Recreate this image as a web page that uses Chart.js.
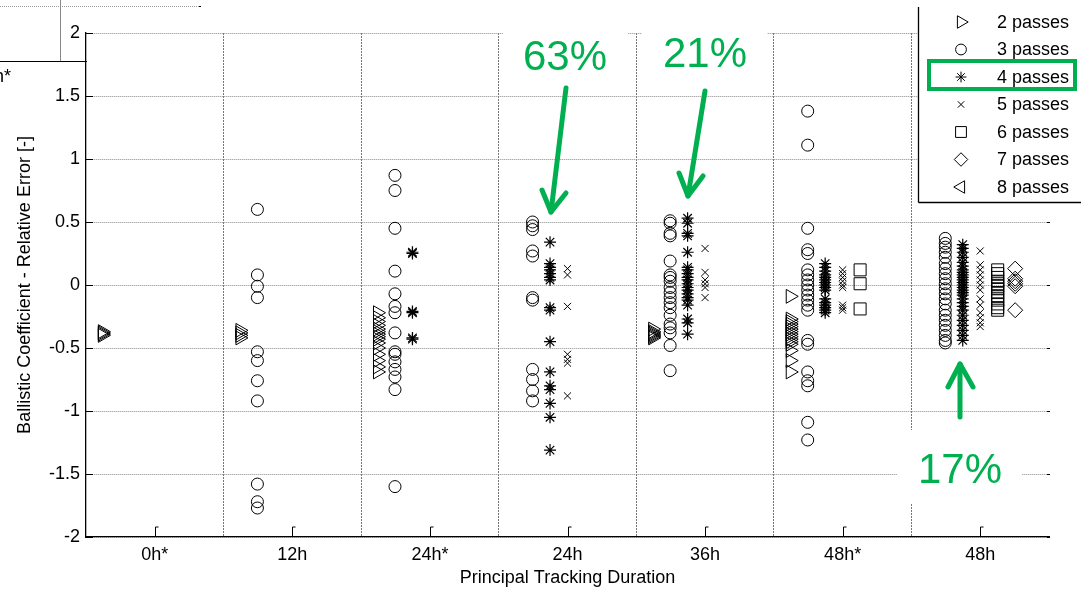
<!DOCTYPE html>
<html>
<head>
<meta charset="utf-8">
<script src="https://cdn.jsdelivr.net/npm/chart.js"></script>
<style>
  body { margin: 0; background: #fff; }
  #wrap { width: 1081px; height: 590px; }
</style>
</head>
<body>
<div id="wrap"><canvas id="bcChart" width="1081" height="590"></canvas></div>
<script>
// categories on the x axis
var categories = ['0h*', '12h', '24h*', '24h', '36h', '48h*', '48h'];
var passLabels = ['2 passes', '3 passes', '4 passes', '5 passes', '6 passes', '7 passes', '8 passes'];

// relative error per category (one inner list per category, same order as above)
var twoPasses = [
    [-0.37, -0.38, -0.39, -0.40],
    [-0.36, -0.38, -0.40, -0.42],
    [-0.22, -0.26, -0.29, -0.32, -0.35, -0.37, -0.39, -0.41, -0.43, -0.46, -0.50, -0.55, -0.60, -0.65, -0.69],
    [],
    [-0.35, -0.37, -0.38, -0.39, -0.40, -0.41, -0.42],
    [-0.09, -0.27, -0.29, -0.31, -0.33, -0.35, -0.37, -0.39, -0.41, -0.43, -0.45, -0.47, -0.52, -0.60, -0.69],
    []
];
var threePasses = [
    [],
    [0.60, 0.08, -0.01, -0.10, -0.53, -0.60, -0.76, -0.92, -1.58, -1.72, -1.77],
    [0.87, 0.75, 0.45, 0.11, -0.07, -0.17, -0.22, -0.38, -0.53, -0.55, -0.61, -0.67, -0.73, -0.83, -1.60],
    [0.50, 0.47, 0.44, 0.27, 0.23, -0.10, -0.12, -0.67, -0.75, -0.84, -0.92],
    [0.51, 0.49, 0.41, 0.39, 0.19, 0.08, 0.06, 0.03, -0.02, -0.06, -0.10, -0.14, -0.18, -0.24, -0.31, -0.34, -0.38, -0.48, -0.68],
    [1.38, 1.11, 0.45, 0.28, 0.25, 0.12, 0.08, 0.04, 0.00, -0.04, -0.08, -0.12, -0.16, -0.20, -0.44, -0.47, -0.69, -0.76, -0.80, -1.09, -1.23],
    [0.37, 0.33, 0.30, 0.26, 0.22, 0.17, 0.13, 0.09, 0.05, 0.01, -0.03, -0.07, -0.11, -0.15, -0.20, -0.24, -0.28, -0.32, -0.36, -0.40, -0.44, -0.46]
];
var fourPasses = [
    [],
    [],
    [0.26, 0.25, -0.21, -0.22, -0.42, -0.43],
    [0.34, 0.17, 0.14, 0.12, 0.09, 0.06, 0.04, -0.18, -0.20, -0.45, -0.69, -0.80, -0.83, -0.94, -1.05, -1.31],
    [0.53, 0.49, 0.41, 0.39, 0.26, 0.14, 0.12, 0.09, 0.06, 0.04, 0.01, -0.02, -0.04, -0.07, -0.10, -0.12, -0.16, -0.27, -0.30, -0.39],
    [0.17, 0.14, 0.11, 0.08, 0.06, 0.04, 0.02, 0.00, -0.02, -0.04, -0.11, -0.14, -0.16, -0.18, -0.20, -0.22],
    [0.32, 0.29, 0.26, 0.22, 0.18, 0.15, 0.12, 0.10, 0.08, 0.06, 0.04, 0.02, 0.00, -0.02, -0.04, -0.06, -0.08, -0.11, -0.14, -0.17, -0.20, -0.24, -0.28, -0.32, -0.36, -0.40, -0.44]
];
var fivePasses = [
    [],
    [],
    [],
    [0.13, 0.08, -0.17, -0.55, -0.59, -0.62, -0.88],
    [0.29, 0.10, 0.04, 0.01, -0.02, -0.10],
    [0.12, 0.09, 0.06, 0.03, 0.00, -0.02, -0.16, -0.18, -0.20],
    [0.27, 0.16, 0.12, 0.08, 0.04, 0.00, -0.04, -0.11, -0.16, -0.22, -0.26, -0.30, -0.33]
];
var sixPasses = [
    [], [], [], [], [],
    [0.12, 0.01, -0.19],
    [0.12, 0.09, 0.06, 0.03, 0.01, -0.01, -0.03, -0.06, -0.09, -0.12, -0.15, -0.18, -0.20]
];
var sevenPasses = [
    [], [], [], [], [], [],
    [0.13, 0.05, 0.03, 0.01, -0.01, -0.20]
];
var eightPasses = [[], [], [], [], [], [], []];

var allPasses = [twoPasses, threePasses, fourPasses, fivePasses, sixPasses, sevenPasses, eightPasses];

// marker look per pass count (matlab style)
var markers = [
    { style: 'triangle', rot: 90, r: 8 },
    { style: 'circle', rot: 0, r: 6 },
    { style: 'star', rot: 0, r: 6 },
    { style: 'crossRot', rot: 0, r: 5 },
    { style: 'rect', rot: 0, r: 8.5 },
    { style: 'rectRot', rot: 0, r: 7.5 },
    { style: 'triangle', rot: -90, r: 8 }
];

var green = '#00b050';

var datasets = allPasses.map(function (groups, i) {
    var pts = [];
    groups.forEach(function (vals, c) {
        vals.forEach(function (v) {
            // each pass count sits at its own slot inside the category
            pts.push({ x: c + 1 + (i - 3) * 0.127, y: v });
        });
    });
    return {
        label: passLabels[i],
        data: pts,
        showLine: false,
        pointStyle: markers[i].style,
        pointRotation: markers[i].rot,
        pointRadius: markers[i].r,
        pointBorderColor: '#000',
        pointBackgroundColor: 'rgba(0,0,0,0)',
        pointBorderWidth: i === 2 ? 1.2 : 1
    };
});

function line(ctx, x1, y1, x2, y2) {
    ctx.beginPath();
    ctx.moveTo(x1, y1);
    ctx.lineTo(x2, y2);
    ctx.stroke();
}

function arrow(ctx, sx, sy, tx, ty, w1x, w1y, w2x, w2y) {
    ctx.save();
    ctx.strokeStyle = green;
    ctx.lineWidth = 5;
    ctx.lineCap = 'round';
    ctx.lineJoin = 'round';
    line(ctx, sx, sy, tx, ty);
    ctx.beginPath();
    ctx.moveTo(w1x, w1y);
    ctx.lineTo(tx, ty);
    ctx.lineTo(w2x, w2y);
    ctx.stroke();
    ctx.restore();
}

var extras = {
    id: 'extras',
    beforeDatasetsDraw: function (chart) {
        var ctx = chart.ctx;
        // white boxes behind the percentage labels
        ctx.save();
        ctx.fillStyle = '#fff';
        ctx.fillRect(503, 26, 125, 56);
        ctx.fillRect(642, 26, 125, 56);
        ctx.fillRect(897, 430, 125, 73);
        ctx.restore();
    },
    afterDatasetsDraw: function (chart) {
        var ctx = chart.ctx;
        var area = chart.chartArea;
        var xs = chart.scales.x, ys = chart.scales.y;

        // inward tick marks
        ctx.save();
        ctx.strokeStyle = '#000';
        ctx.lineWidth = 1;
        ys.ticks.forEach(function (t) {
            var py = Math.round(ys.getPixelForValue(t.value)) + 0.5;
            line(ctx, area.left, py, area.left + 7, py);
            line(ctx, area.right - 2, py, area.right + 1, py);
        });
        categories.forEach(function (c, i) {
            var px = Math.round(xs.getPixelForValue(i + 1)) + 0.5;
            line(ctx, px, area.bottom, px, area.bottom - 10);
            line(ctx, px, area.bottom - 10, px + 3, area.bottom - 10);
        });
        ctx.restore();

        // legend box
        ctx.save();
        ctx.fillStyle = '#fff';
        ctx.fillRect(918, 0, 170, 202);
        ctx.strokeStyle = '#000';
        ctx.lineWidth = 1.3;
        line(ctx, 918.5, 7, 918.5, 202.5);
        line(ctx, 918.5, 202.5, 1081, 202.5);
        ctx.font = '18px "Liberation Sans", Arial, sans-serif';
        ctx.textBaseline = 'middle';
        ctx.textAlign = 'left';
        passLabels.forEach(function (lab, i) {
            var ly = 22 + i * 27.5;
            ctx.fillStyle = 'rgba(0,0,0,0)';
            ctx.strokeStyle = '#000';
            ctx.lineWidth = 1;
            if (Chart.helpers && Chart.helpers.drawPoint) {
                Chart.helpers.drawPoint(ctx, {
                    pointStyle: markers[i].style,
                    rotation: markers[i].rot,
                    radius: markers[i].r * 0.9,
                    borderWidth: 1
                }, 961, ly);
            }
            ctx.fillStyle = '#000';
            ctx.fillText(lab, 997, ly + 1);
        });
        ctx.strokeStyle = green;
        ctx.lineWidth = 4;
        ctx.strokeRect(929, 61, 146, 28);
        ctx.restore();

        // percentages and arrows
        ctx.save();
        ctx.fillStyle = green;
        ctx.font = '42px "Liberation Sans", Arial, sans-serif';
        ctx.textAlign = 'center';
        ctx.textBaseline = 'alphabetic';
        ctx.fillText('63%', 565, 70);
        ctx.fillText('21%', 705, 67);
        ctx.fillText('17%', 960, 483);
        ctx.restore();
        arrow(ctx, 566, 88, 551, 212, 542, 190, 566, 193);
        arrow(ctx, 705, 91, 688, 196, 679, 173, 703, 176);
        arrow(ctx, 960, 417, 960, 364, 948, 387, 973, 387);

        // bits of the neighbouring figure at the top left
        ctx.save();
        ctx.strokeStyle = '#999';
        ctx.lineWidth = 1;
        ctx.setLineDash([1, 1]);
        line(ctx, 0, 6.5, 199, 6.5);
        ctx.setLineDash([]);
        ctx.strokeStyle = '#000';
        line(ctx, 199, 6.5, 201, 6.5);
        ctx.strokeStyle = '#888';
        line(ctx, 60.5, 0, 60.5, 61);
        ctx.strokeStyle = '#000';
        line(ctx, 0, 61.5, 87, 61.5);
        ctx.fillStyle = '#000';
        ctx.font = '18px "Liberation Sans", Arial, sans-serif';
        ctx.textAlign = 'right';
        ctx.textBaseline = 'alphabetic';
        ctx.fillText('0h*', 11, 82);
        ctx.restore();
    }
};

Chart.defaults.font.family = '"Liberation Sans", Arial, sans-serif';
Chart.defaults.font.size = 18;
Chart.defaults.color = '#000';

var bc = document.getElementById('bcChart').getContext('2d');
var bcChart = new Chart(bc, {
    type: 'scatter',
    data: { datasets: datasets },
    options: {
        responsive: false,
        animation: false,
        events: [],
        layout: { padding: { left: 0, right: 32, top: 33, bottom: 0 } },
        plugins: {
            legend: { display: false },
            tooltip: { enabled: false }
        },
        scales: {
            x: {
                type: 'linear',
                min: 0.5,
                max: 7.5,
                afterBuildTicks: function (scale) {
                    var t = [];
                    for (var v = 0.5; v <= 7.5; v += 0.5) t.push({ value: v });
                    scale.ticks = t;
                },
                afterFit: function (scale) { scale.height = 53; },
                ticks: {
                    autoSkip: false,
                    maxRotation: 0,
                    padding: 7,
                    callback: function (v) {
                        return Number.isInteger(v) ? categories[v - 1] : '';
                    }
                },
                grid: {
                    drawTicks: false,
                    color: function (ctx) {
                        var v = ctx.tick ? ctx.tick.value : 0;
                        return (v % 1 !== 0 && v > 0.5 && v < 7.5) ? '#777' : 'rgba(0,0,0,0)';
                    },
                    lineWidth: 1
                },
                border: { display: true, color: '#000', width: 1.3, dash: [2, 1] },
                title: {
                    display: true,
                    text: 'Principal Tracking Duration',
                    padding: { top: 0, bottom: 1 }
                }
            },
            y: {
                min: -2,
                max: 2,
                afterFit: function (scale) { scale.width = 86; },
                ticks: {
                    stepSize: 0.5,
                    padding: 6,
                    callback: function (v) { return String(Math.round(v * 10) / 10); }
                },
                grid: { drawTicks: false, color: '#8a8a8a', lineWidth: 1 },
                border: { display: true, color: '#000', width: 1.3, dash: [1, 1] },
                title: {
                    display: true,
                    text: 'Ballistic Coefficient - Relative Error [-]',
                    padding: { top: 14, bottom: 0 }
                }
            }
        }
    },
    plugins: [extras]
});
</script>
</body>
</html>
